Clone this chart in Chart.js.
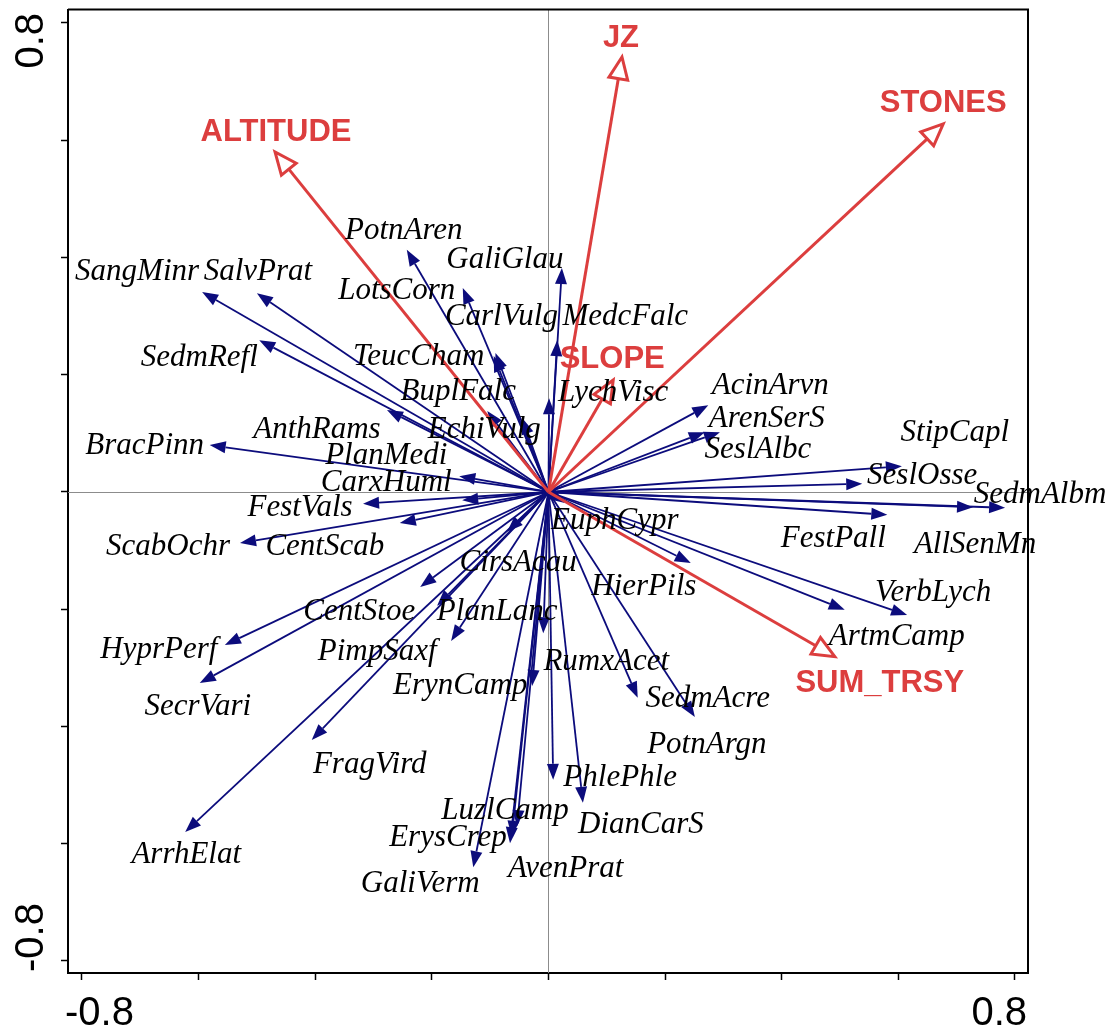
<!DOCTYPE html>
<html>
<head>
<meta charset="utf-8">
<script src="https://cdn.jsdelivr.net/npm/chart.js@4/dist/chart.umd.min.js"></script>
<style>
  html, body { margin: 0; padding: 0; background: #fff; }
  canvas { display: block; }
</style>
</head>
<body>
<canvas id="biplot" width="1113" height="1030"></canvas>
<script>
// Species scores on the first two ordination axes (arrow tips)
const speciesNames = [
  'SangMinr','SalvPrat','SedmRefl','PotnAren','GaliGlau','LotsCorn','CarlVulg','MedcFalc',
  'TeucCham','BuplFalc','LychVisc','AnthRams','EchiVulg','BracPinn','PlanMedi','CarxHuml',
  'FestVals','ScabOchr','CentScab','AcinArvn','ArenSerS','SeslAlbc','StipCapl','SeslOsse',
  'SedmAlbm','FestPall','AllSenMn','EuphCypr','CirsAcau','HierPils','VerbLych','ArtmCamp',
  'CentStoe','PlanLanc','HyprPerf','PimpSaxf','RumxAcet','SedmAcre','PotnArgn','ErynCamp',
  'SecrVari','FragVird','PhlePhle','LuzlCamp','DianCarS','ErysCrep','AvenPrat','ArrhElat',
  'GaliVerm'
];
const speciesAxis1 = [
  -0.594,-0.500,-0.496,-0.243, 0.023,-0.147,-0.091, 0.015,
  -0.094,-0.105, 0.001,-0.277,-0.045,-0.581,-0.153,-0.148,
  -0.318,-0.529,-0.255, 0.274, 0.268, 0.294, 0.606, 0.538,
   0.783, 0.581, 0.728, 0.028,-0.071, 0.244, 0.615, 0.508,
  -0.220,-0.191,-0.555,-0.167,-0.009, 0.153, 0.251,-0.028,
  -0.598,-0.406, 0.008,-0.054, 0.059,-0.066,-0.063,-0.623,
  -0.129
];
const speciesAxis2 = [
   0.341, 0.339, 0.259, 0.413, 0.382, 0.348, 0.237, 0.259,
   0.232, 0.138, 0.160, 0.140, 0.126, 0.080, 0.027,-0.014,
  -0.020,-0.087,-0.053, 0.148, 0.102, 0.102, 0.044, 0.014,
  -0.027,-0.039,-0.026,-0.019,-0.068,-0.121,-0.210,-0.201,
  -0.162,-0.194,-0.261,-0.254,-0.241,-0.351,-0.384,-0.331,
  -0.326,-0.423,-0.491,-0.570,-0.530,-0.599,-0.588,-0.580,
  -0.640
];

// Environmental variables (biplot scores)
const envNames = ['ALTITUDE','JZ','STONES','SLOPE','SUM_TRSY'];
const envAxis1 = [-0.469, 0.126, 0.677, 0.111, 0.491];
const envAxis2 = [ 0.580, 0.742, 0.628, 0.191,-0.281];

// Axis ticks
const tickValues = [-0.8,-0.6,-0.4,-0.2,0,0.2,0.4,0.6,0.8];
const labelledTicks = [-0.8, 0.8];
const tickLabels = ['-0.8','0.8'];

// Label placement (pixel offset of label centre from arrow tip)
const speciesLabelOffset = [
  [-65,-20],[1,-21],[-60,18],[-3,-19],[-57,-8],[-66,3],[6,-36],[68,-23],
  [-75,1],[-29,-19],[64,-5],[-70,20],[-38,12],[-65,1],[-73,-20],[-76,-17],
  [-63,4],[-72,4],[-75,24],[62,-19],[62,-13],[38,18],[53,-33],[60,-8],
  [35,-13],[-54,24],[2,38],[50,18],[11,31],[-47,24],[26,-22],[52,27],
  [-61,25],[60,6],[-66,5],[-74,11],[63,29],[70,1],[12,28],[-72,0],
  [-2,24],[58,25],[67,-2],[-12,-15],[58,22],[-62,-5],[54,32],[1,23],
  [-53,17]
];
const envLabelOffset = [[1,-20],[-1,-19],[0,-20],[-1,-21],[45,27]];

const NAVY = '#0c0c7c';
const RED = '#dc3e3e';

function headPath(ctx, x0, y0, x1, y1, len, half) {
  const a = Math.atan2(y1 - y0, x1 - x0);
  const bx = x1 - Math.cos(a) * len, by = y1 - Math.sin(a) * len;
  ctx.beginPath();
  ctx.moveTo(x1, y1);
  ctx.lineTo(bx + Math.sin(a) * half, by - Math.cos(a) * half);
  ctx.lineTo(bx - Math.sin(a) * half, by + Math.cos(a) * half);
  ctx.closePath();
  return [bx, by];
}

const biplotPlugin = {
  id: 'biplot',
  beforeDatasetsDraw(chart) {
    const {ctx, chartArea: a, scales: {x, y}} = chart;
    ctx.save();
    // zero lines
    ctx.strokeStyle = '#8c8c8c';
    ctx.lineWidth = 1;
    const zx = Math.round(x.getPixelForValue(0)) + 0.5;
    const zy = Math.round(y.getPixelForValue(0)) + 0.5;
    ctx.beginPath();
    ctx.moveTo(zx, a.top); ctx.lineTo(zx, a.bottom);
    ctx.moveTo(a.left, zy); ctx.lineTo(a.right, zy);
    ctx.stroke();
    // top and right frame
    ctx.strokeStyle = '#000';
    ctx.lineWidth = 2;
    ctx.beginPath();
    ctx.moveTo(a.left, a.top); ctx.lineTo(a.right, a.top); ctx.lineTo(a.right, a.bottom);
    ctx.stroke();
    ctx.restore();
  },
  afterDatasetsDraw(chart) {
    const {ctx, scales: {x, y}} = chart;
    const ox = x.getPixelForValue(0), oy = y.getPixelForValue(0);
    ctx.save();
    ctx.lineCap = 'butt';
    // species arrows
    const sp = chart.getDatasetMeta(0).data;
    sp.forEach(pt => {
      ctx.strokeStyle = NAVY; ctx.fillStyle = NAVY; ctx.lineWidth = 1.8;
      const [bx, by] = headPath(ctx, ox, oy, pt.x, pt.y, 16, 6);
      ctx.fill();
      ctx.beginPath(); ctx.moveTo(ox, oy); ctx.lineTo(bx, by); ctx.stroke();
    });
    // environmental arrows
    const env = chart.getDatasetMeta(1).data;
    env.forEach(pt => {
      ctx.strokeStyle = RED; ctx.lineWidth = 3; ctx.lineJoin = 'miter';
      const [bx, by] = headPath(ctx, ox, oy, pt.x, pt.y, 22, 9.5);
      ctx.fillStyle = '#fff'; ctx.fill(); ctx.stroke();
      ctx.beginPath(); ctx.moveTo(ox, oy); ctx.lineTo(bx, by); ctx.stroke();
    });
    // labels
    ctx.textAlign = 'center';
    ctx.textBaseline = 'middle';
    ctx.fillStyle = '#000';
    ctx.font = 'italic 31px "Liberation Serif", "Times New Roman", serif';
    sp.forEach((pt, i) => {
      const [dx, dy] = speciesLabelOffset[i];
      ctx.fillText(speciesNames[i], pt.x + dx, pt.y + dy);
    });
    ctx.fillStyle = RED;
    ctx.font = 'bold 31px "Liberation Sans", Arial, sans-serif';
    env.forEach((pt, i) => {
      const [dx, dy] = envLabelOffset[i];
      ctx.fillText(envNames[i], pt.x + dx, pt.y + dy);
    });
    // tick labels at the axis ends
    ctx.fillStyle = '#000';
    ctx.font = '40px "Liberation Sans", Arial, sans-serif';
    ctx.textBaseline = 'alphabetic';
    const axisBottom = chart.chartArea.bottom;
    ctx.textAlign = 'left';
    ctx.fillText(tickLabels[0], x.getPixelForValue(labelledTicks[0]) - 17, axisBottom + 52);
    ctx.textAlign = 'right';
    ctx.fillText(tickLabels[1], x.getPixelForValue(labelledTicks[1]) + 12, axisBottom + 52);
    const lx = chart.chartArea.left - 25;
    ctx.save();
    ctx.translate(lx, y.getPixelForValue(labelledTicks[1]) - 10);
    ctx.rotate(-Math.PI / 2);
    ctx.textAlign = 'right';
    ctx.fillText(tickLabels[1], 0, 0);
    ctx.restore();
    ctx.save();
    ctx.translate(lx, y.getPixelForValue(labelledTicks[0]) + 11);
    ctx.rotate(-Math.PI / 2);
    ctx.textAlign = 'left';
    ctx.fillText(tickLabels[0], 0, 0);
    ctx.restore();
    ctx.restore();
  }
};

const axisCommon = {
  type: 'linear',
  afterBuildTicks: s => { s.ticks = tickValues.map(v => ({value: v})); },
  grid: { drawOnChartArea: false, drawTicks: true, tickLength: 7, tickWidth: 1.5, tickColor: '#000' },
  border: { display: true, color: '#000', width: 2 },
  ticks: { callback: () => '', padding: 0 }
};

new Chart(document.getElementById('biplot'), {
  type: 'scatter',
  data: {
    datasets: [
      { label: 'species', data: speciesNames.map((n, i) => ({x: speciesAxis1[i], y: speciesAxis2[i]})), pointRadius: 0 },
      { label: 'environment', data: envNames.map((n, i) => ({x: envAxis1[i], y: envAxis2[i]})), pointRadius: 0 }
    ]
  },
  options: {
    responsive: false,
    animation: false,
    devicePixelRatio: 1,
    layout: { padding: { top: 9.5, right: 85, left: 0, bottom: 0 } },
    plugins: { legend: { display: false }, tooltip: { enabled: false } },
    scales: {
      x: Object.assign({}, axisCommon, { min: -0.824, max: 0.8223, afterFit: s => { s.height = 57; } }),
      y: Object.assign({}, axisCommon, { min: -0.8205, max: 0.823, afterFit: s => { s.width = 68; } })
    }
  },
  plugins: [biplotPlugin]
});
</script>
</body>
</html>
